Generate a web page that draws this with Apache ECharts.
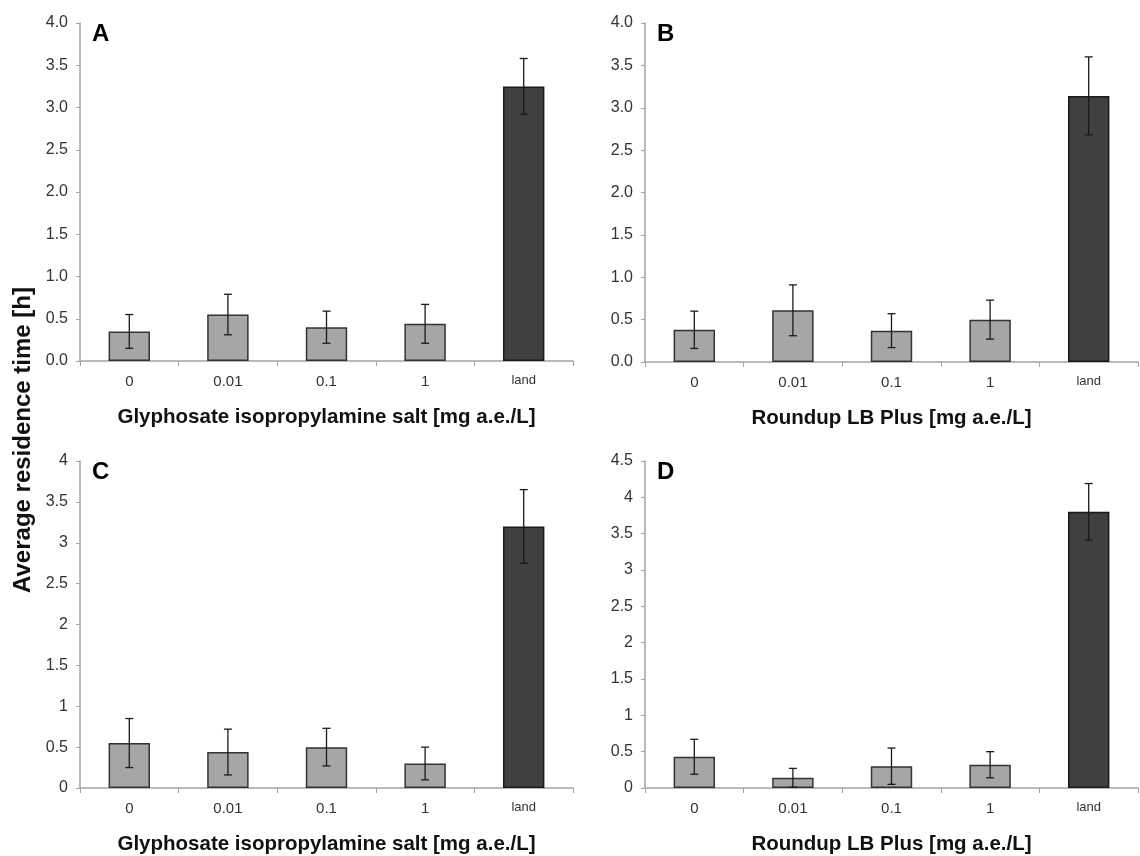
<!DOCTYPE html>
<html>
<head>
<meta charset="utf-8">
<script src="https://cdn.jsdelivr.net/npm/echarts@6/dist/echarts.min.js"></script>
<style>
  html, body { margin: 0; padding: 0; background: #fff; }
  #chart { width: 1140px; height: 856px; }
</style>
</head>
<body>
<div id="chart"></div>
<script>
// categories (x axis)
var categories = ['0', '0.01', '0.1', '1', 'land'];

// means and error (+/-) per panel
var meanA = [0.35, 0.55, 0.40, 0.44, 3.25];
var errA = [0.20, 0.24, 0.19, 0.23, 0.33];
var meanB = [0.38, 0.61, 0.37, 0.50, 3.14];
var errB = [0.22, 0.30, 0.20, 0.23, 0.46];
var meanC = [0.55, 0.44, 0.50, 0.30, 3.20];
var errC = [0.30, 0.28, 0.23, 0.20, 0.45];
var meanD = [0.43, 0.14, 0.30, 0.32, 3.80];
var errD = [0.24, 0.13, 0.25, 0.18, 0.39];

var panelLetters = ['A', 'B', 'C', 'D'];
var xTitles = [
    'Glyphosate isopropylamine salt [mg a.e./L]',
    'Roundup LB Plus [mg a.e./L]',
    'Glyphosate isopropylamine salt [mg a.e./L]',
    'Roundup LB Plus [mg a.e./L]'
];
var yMax = [4, 4, 4, 4.5];
var yDecimals = [1, 1, 0, 0];
var yTitle = 'Average residence time [h]';

var means = [meanA, meanB, meanC, meanD];
var errs = [errA, errB, errC, errD];

//grid positions
var grids = [
    {left: 80, top: 23, width: 493, height: 338},
    {left: 645, top: 23, width: 493, height: 339},
    {left: 80, top: 461, width: 493, height: 339},
    {left: 645, top: 461, width: 493, height: 339}
];

var fontTick = 'Liberation Sans';
var axisGray = '#a3a3a3';

var option = {
    animation: false,
    backgroundColor: '#fff',
    grid: grids,
    xAxis: [],
    yAxis: [],
    series: [],
    graphic: []
};

grids.forEach(function (g, i) {
    option.xAxis.push({
        type: 'category',
        gridIndex: i,
        data: categories,
        boundaryGap: true,
        axisLine: {lineStyle: {color: axisGray, width: 1.5}},
        axisTick: {show: true, length: 5, inside: false, lineStyle: {color: axisGray}},
        axisLabel: {
            margin: 13,
            fontFamily: fontTick,
            fontSize: 15,
            color: '#333',
            formatter: function (v) {
                return v === 'land' ? '{s|' + v + '}' : v;
            },
            rich: {s: {fontFamily: fontTick, fontSize: 13, color: '#333'}}
        },
        name: xTitles[i],
        nameLocation: 'middle',
        nameGap: 46,
        nameTextStyle: {fontFamily: 'Liberation Sans', fontSize: 20.5, fontWeight: 'bold', color: '#111'}
    });
    option.yAxis.push({
        type: 'value',
        gridIndex: i,
        min: 0,
        max: yMax[i],
        interval: 0.5,
        splitLine: {show: false},
        axisLine: {show: true, lineStyle: {color: axisGray, width: 1.5}},
        axisTick: {show: true, length: 4, lineStyle: {color: axisGray}},
        axisLabel: {
            margin: 12,
            fontFamily: fontTick,
            fontSize: 16,
            color: '#333',
            formatter: (function (d) {
                return function (v) {
                    return d ? v.toFixed(1) : String(+v.toFixed(1));
                };
            })(yDecimals[i])
        }
    });

    // bars
    option.series.push({
        type: 'bar',
        xAxisIndex: i,
        yAxisIndex: i,
        barWidth: '42%',
        data: means[i].map(function (v, k) {
            var isLand = categories[k] === 'land';
            return {
                value: v,
                itemStyle: {
                    color: isLand ? '#404040' : '#a6a6a6',
                    borderColor: isLand ? '#1a1a1a' : '#333',
                    borderWidth: 1.5
                }
            };
        })
    });

    // error bars
    option.series.push({
        type: 'custom',
        xAxisIndex: i,
        yAxisIndex: i,
        z: 5,
        data: means[i].map(function (v, k) {
            return [k, v - errs[i][k], v + errs[i][k]];
        }),
        renderItem: function (params, api) {
            var lo = api.coord([api.value(0), api.value(1)]);
            var hi = api.coord([api.value(0), api.value(2)]);
            var hw = 4;
            var style = {stroke: '#1a1a1a', lineWidth: 1.3};
            return {
                type: 'group',
                children: [
                    {type: 'line', shape: {x1: hi[0], y1: hi[1], x2: lo[0], y2: lo[1]}, style: style},
                    {type: 'line', shape: {x1: hi[0] - hw, y1: hi[1], x2: hi[0] + hw, y2: hi[1]}, style: style},
                    {type: 'line', shape: {x1: lo[0] - hw, y1: lo[1], x2: lo[0] + hw, y2: lo[1]}, style: style}
                ]
            };
        }
    });

    // panel letter
    option.graphic.push({
        type: 'text',
        left: g.left + 12,
        top: g.top - 1,
        style: {
            text: panelLetters[i],
            fontFamily: 'Liberation Sans',
            fontSize: 24,
            fontWeight: 'bold',
            fill: '#000'
        }
    });
});

// shared y axis title
option.graphic.push({
    type: 'text',
    x: 23,
    y: 440,
    rotation: Math.PI / 2,
    style: {
        text: yTitle,
        fontFamily: 'Liberation Sans',
        fontSize: 24,
        fontWeight: 'bold',
        fill: '#111',
        align: 'center',
        verticalAlign: 'middle'
    }
});

var chart = echarts.init(document.getElementById('chart'));
chart.setOption(option);
</script>
</body>
</html>
